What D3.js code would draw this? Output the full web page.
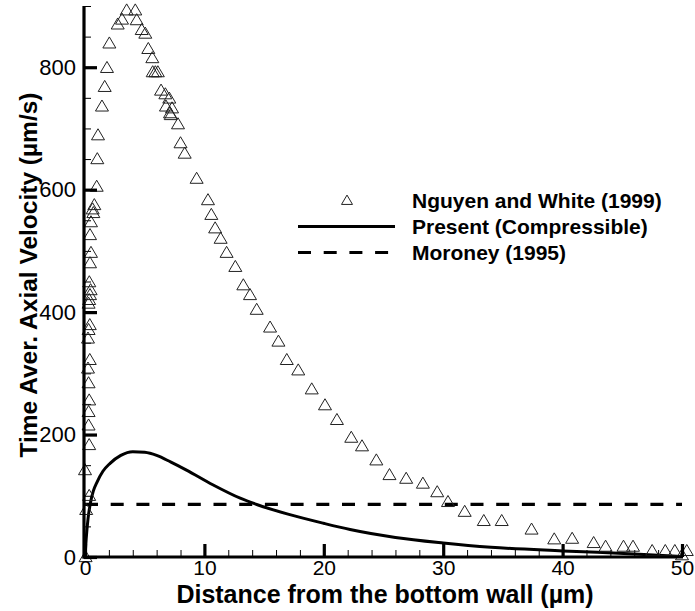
<!DOCTYPE html>
<html>
<head>
<meta charset="utf-8">
<script src="https://cdn.jsdelivr.net/npm/d3@7"></script>
<style>
  html, body { margin: 0; padding: 0; background: #fff; }
  svg { display: block; font-family: "Liberation Sans", Arial, sans-serif; }
</style>
</head>
<body>
<svg id="chart" width="695" height="611"></svg>
<script>
// Experimental profile: Nguyen and White (1999), distance (µm) / velocity (µm/s)
const nguyenX = [0.05, 0.1, 0.35, 0.0, 0.35, 0.3, 0.3, 0.35, 0.3, 0.25, 0.4, 0.25, 0.3, 0.4, 0.3, 0.35,
  0.42, 0.47, 0.36, 0.42, 0.5, 0.42, 0.5, 0.7, 0.64, 0.78, 0.98, 1.03, 1.09, 1.42, 1.65, 1.84, 2.04,
  2.74, 3.1, 3.49, 4.21, 4.33, 4.75, 5.05, 5.3, 5.64, 5.67, 5.89, 6.1, 6.37, 6.73, 7.06, 6.78, 7.29,
  7.12, 7.18, 7.79, 8.0, 8.35, 9.35, 10.3, 10.58, 10.9, 11.36, 11.86, 12.59, 13.26, 13.82, 14.38,
  15.5, 16.2, 16.9, 17.86, 18.99, 20.1, 21.1, 22.3, 23.2, 24.4, 25.5, 26.9, 28.3, 29.5, 30.4, 31.8,
  33.4, 34.9, 37.4, 39.3, 40.8, 42.6, 43.6, 45.1, 45.9, 47.5, 48.6, 49.4, 50.4, 50.0];
const nguyenV = [0, 77, 100, 142, 183, 215, 237, 256, 284, 308, 322, 357, 371, 379, 414, 420,
  428, 436, 449, 480, 497, 526, 547, 562, 568, 575, 605, 650, 689, 736, 768, 799, 839,
  870, 878, 893, 893, 877, 861, 855, 830, 815, 792, 792, 792, 762, 756, 749, 736, 733,
  725, 722, 707, 676, 659, 618, 583, 559, 537, 520, 497, 474, 444, 428, 404,
  375, 352, 322, 305, 274, 248, 224, 195, 181, 158, 134, 128, 120, 106, 90, 74,
  59, 59, 45, 29, 30, 23, 17, 17, 17, 10, 10, 10, 10, 3];

// Present (compressible) simulation
const presentX = [0, 0.1, 0.25, 0.45, 0.7, 1.0, 1.5, 2.1, 3.0, 4.0, 5.0, 6.0, 7.2, 8.5, 10.7, 13,
  14.5, 17, 20, 22.2, 26, 30, 34, 40, 46, 50];
const presentV = [0, 30, 62, 88, 108, 122, 140, 153, 166, 172, 171, 166, 155, 142, 118, 96,
  85, 70, 55, 45, 32, 23, 16, 10, 5, 1];

// Moroney (1995) constant velocity
const moroneyX = [0, 50];
const moroneyV = [86, 86];

// Axis ticks
const yMajorTicks = [0, 200, 400, 600, 800];
const yMinorTicks = d3.range(0, 901, 50);
const xMajorTicks = [0, 10, 20, 30, 40, 50];
const xMinorTicks = d3.range(0, 51, 2);

const legendLabels = ["Nguyen and White (1999)", "Present (Compressible)", "Moroney (1995)"];

const svg = d3.select("#chart");
const x = d3.scaleLinear().domain([0, 50]).range([85, 682]);
const y = d3.scaleLinear().domain([0, 900]).range([557, 6]);

const trianglePath = (s) => {
  const h = s * 0.85;
  return `M0,${-h * 0.58}L${s / 2},${h * 0.42}L${-s / 2},${h * 0.42}Z`;
};

// Minor ticks
const yMinorAxis = d3.axisLeft(y).tickValues(yMinorTicks).tickSize(-7).tickSizeOuter(0).tickFormat("");
svg.append("g").attr("transform", `translate(${x(0) - 1},0)`).call(yMinorAxis)
  .call(g => g.select(".domain").remove())
  .call(g => g.selectAll(".tick line").attr("stroke", "#000").attr("stroke-width", 1));
const xMinorAxis = d3.axisBottom(x).tickValues(xMinorTicks).tickSize(-7).tickSizeOuter(0).tickFormat("");
svg.append("g").attr("transform", `translate(0,${y(0)})`).call(xMinorAxis)
  .call(g => g.select(".domain").remove())
  .call(g => g.selectAll(".tick line").attr("stroke", "#000").attr("stroke-width", 1));

// Moroney dashed line
const line = d3.line().x(d => x(d[0])).y(d => y(d[1]));
svg.append("path")
  .datum(moroneyX.map((v, i) => [v, moroneyV[i]]))
  .attr("d", line)
  .attr("fill", "none").attr("stroke", "#000").attr("stroke-width", 3.2)
  .attr("stroke-dasharray", "13,12.7");

// Present curve
svg.append("path")
  .datum(presentX.map((v, i) => [v, presentV[i]]))
  .attr("d", line.curve(d3.curveMonotoneX))
  .attr("fill", "none").attr("stroke", "#000").attr("stroke-width", 3);

// Experimental triangles
svg.append("g").selectAll("path")
  .data(nguyenX.map((v, i) => [v, nguyenV[i]]))
  .join("path")
  .attr("transform", d => `translate(${x(d[0])},${y(d[1])})`)
  .attr("d", trianglePath(13))
  .attr("fill", "none").attr("stroke", "#222").attr("stroke-width", 1);

// Major axes
const yAxis = d3.axisLeft(y).tickValues(yMajorTicks).tickSize(-13).tickSizeOuter(0).tickPadding(8);
svg.append("g").attr("transform", `translate(${x(0) - 1},0)`).call(yAxis)
  .call(g => g.select(".domain").attr("stroke-width", 3.2).attr("d", `M0,${y(900)}V${y(0) + 1.5}`))
  .call(g => g.selectAll(".tick line").attr("stroke-width", 3.2))
  .call(g => g.selectAll(".tick text").attr("font-size", 22).attr("fill", "#000")
    .attr("font-family", "Liberation Sans, Arial, sans-serif"));

const xAxis = d3.axisBottom(x).tickValues(xMajorTicks).tickSize(-13).tickSizeOuter(0).tickPadding(3);
svg.append("g").attr("transform", `translate(0,${y(0)})`).call(xAxis)
  .call(g => g.select(".domain").attr("stroke-width", 3.2).attr("d", `M${x(0) - 2.5},0H${x(50) + 1}`))
  .call(g => g.selectAll(".tick line").attr("stroke-width", 3.2))
  .call(g => g.selectAll(".tick text").attr("font-size", 21).attr("fill", "#000")
    .attr("font-family", "Liberation Sans, Arial, sans-serif"));

// Axis titles
svg.append("text")
  .attr("x", 385).attr("y", 602.5)
  .attr("text-anchor", "middle")
  .attr("font-size", 25).attr("font-weight", "bold")
  .text("Distance from the bottom wall (µm)");
svg.append("text")
  .attr("transform", "translate(37,275) rotate(-90)")
  .attr("text-anchor", "middle")
  .attr("font-size", 24.5).attr("font-weight", "bold")
  .text("Time Aver. Axial Velocity (µm/s)");

// Legend
const legend = svg.append("g");
const rows = [200.5, 226.5, 252.5];
legend.append("path")
  .attr("transform", `translate(347,${rows[0]})`)
  .attr("d", trianglePath(11))
  .attr("fill", "none").attr("stroke", "#222").attr("stroke-width", 1);
legend.append("line")
  .attr("x1", 298).attr("x2", 395).attr("y1", rows[1]).attr("y2", rows[1])
  .attr("stroke", "#000").attr("stroke-width", 3.2);
legend.append("line")
  .attr("x1", 298).attr("x2", 392).attr("y1", rows[2]).attr("y2", rows[2])
  .attr("stroke", "#000").attr("stroke-width", 3.2).attr("stroke-dasharray", "13,12.7");
legend.selectAll("text.lbl")
  .data(legendLabels)
  .join("text")
  .attr("class", "lbl")
  .attr("x", 412).attr("y", (d, i) => rows[i])
  .attr("dy", "0.36em")
  .attr("font-size", 21).attr("font-weight", "bold")
  .text(d => d);
</script>
</body>
</html>
